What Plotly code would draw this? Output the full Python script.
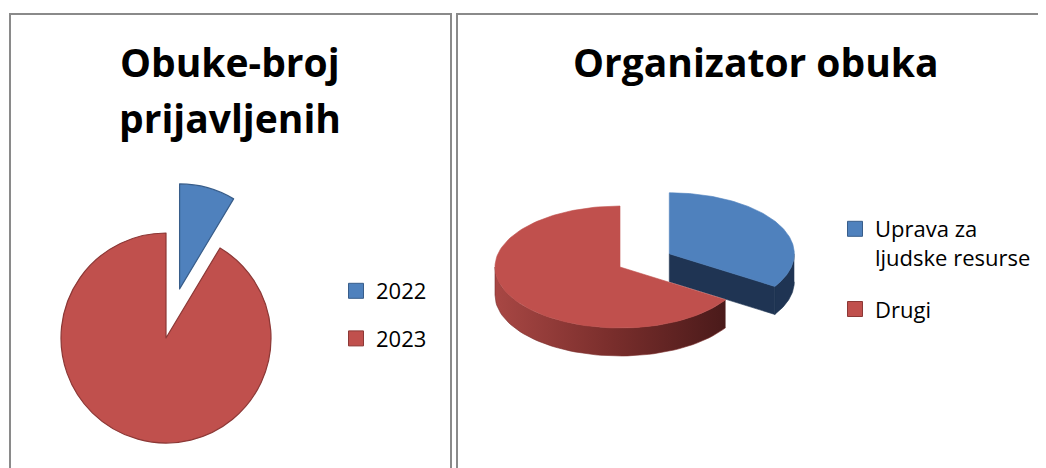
import math
import plotly.graph_objects as go

# ---------------- data ----------------
years = ["2022", "2023"]
year_values = [8.6, 91.4]

org_labels = ["Uprava za<br>ljudske resurse", "Drugi"]
org_values = [34, 66]

# ---------------- style ----------------
OFF = 8                      # page body margin
W, H = 1046 - OFF, 468 - OFF
FONT = "Open Sans"
BLUE, BLUE_LINE, BLUE_DARK = "#4F81BD", "#385D8A", "#1F3453"
RED, RED_LINE = "#C0504D", "#8C3836"
CLEAR = "rgba(0,0,0,0)"
year_colors = [BLUE, RED]
year_lines = [BLUE_LINE, RED_LINE]
org_colors = [BLUE, RED]
org_side = [BLUE_DARK, None]          # None -> gradient
org_lines = [BLUE_LINE, RED_LINE]


def px(x):
    return (x - OFF) / W


def py(y):
    return 1 - (y - OFF) / H


fig = go.Figure()

# ---------------- left pie (2D, exploded first slice) ----------------
LP_CX, LP_CY, LP_R, LP_PULL = 166, 338, 105, 0.485
total = sum(year_values)


def domain(cx, cy, r):
    return dict(x=[px(cx - r), px(cx + r)], y=[py(cy + r), py(cy - r)])


for i, v in enumerate(year_values):
    start = 360 * sum(year_values[:i]) / total
    mid = math.radians(start + 180 * v / total)
    pull = LP_PULL if i == 0 else 0
    cx = LP_CX + pull * LP_R * math.sin(mid)
    cy = LP_CY - pull * LP_R * math.cos(mid)
    colors = [year_colors[j] if j == i else CLEAR for j in range(len(years))]
    lines = [year_lines[j] if j == i else CLEAR for j in range(len(years))]
    fig.add_trace(go.Pie(
        labels=years, values=year_values, sort=False, direction="clockwise",
        rotation=0, textinfo="none", hoverinfo="label+value",
        marker=dict(colors=colors, line=dict(color=lines, width=1.2)),
        domain=domain(cx, cy, LP_R), showlegend=False))

# ---------------- right pie (3D look, exploded first slice) ----------------
RP_CX, RP_CY, RP_A, RP_B, RP_D, RP_PULL = 620, 267, 125, 61, 28, 0.45
org_total = sum(org_values)


def ell(cx, cy, ang, dz=0):
    t = math.radians(ang)
    return cx + RP_A * math.sin(t), cy - RP_B * math.cos(t) + dz


def arc(cx, cy, a0, a1, dz=0, n=60):
    pts = [ell(cx, cy, a0 + (a1 - a0) * k / n, dz) for k in range(n + 1)]
    return [p[0] for p in pts], [p[1] for p in pts]


slices = []
for i, v in enumerate(org_values):
    a0 = 360 * sum(org_values[:i]) / org_total
    a1 = a0 + 360 * v / org_total
    am = math.radians((a0 + a1) / 2)
    pull = RP_PULL if i == 0 else 0
    cx = RP_CX + pull * RP_A * math.sin(am)
    cy = RP_CY - pull * RP_B * math.cos(am)
    slices.append((cy - RP_B * math.cos(am), i, a0, a1, cx, cy))

slices.sort()
for _, i, a0, a1, cx, cy in slices:
    polys = []
    # outer wall (front half only)
    s0, s1 = max(a0, 90), min(a1, 270)
    if s1 > s0:
        tx, ty = arc(cx, cy, s0, s1)
        bx, by = arc(cx, cy, s1, s0, RP_D)
        polys.append((tx + bx, ty + by, "wall"))
    # end cut face
    if math.sin(math.radians(a1)) > 1e-6:
        ex, ey = ell(cx, cy, a1)
        polys.append(([cx, ex, ex, cx, cx], [cy, ey, ey + RP_D, cy + RP_D, cy], "cut"))
    # start cut face
    if math.sin(math.radians(a0)) < -1e-6:
        sx, sy = ell(cx, cy, a0)
        polys.append(([cx, sx, sx, cx, cx], [cy, sy, sy + RP_D, cy + RP_D, cy], "cut"))
    # top face
    tx, ty = arc(cx, cy, a0, a1, n=120)
    polys.append(([cx] + tx + [cx], [cy] + ty + [cy], "top"))
    for xs, ys, kind in polys:
        kw = {}
        if kind == "top":
            col = org_colors[i]
            kw["fillcolor"] = col
        elif org_side[i] is not None:
            col = org_side[i]
            kw["fillcolor"] = col
        else:
            col = "#7A2E2C"
            kw["fillgradient"] = dict(
                type="horizontal",
                colorscale=[[0, "#A84744"], [0.5, "#7A2E2C"], [1, "#4A1A1A"]])
        fig.add_trace(go.Scatter(
            x=xs, y=ys, mode="lines", fill="toself",
            line=dict(width=0.6, color=col), hoverinfo="skip",
            showlegend=False, **kw))

# ---------------- legends ----------------
for i, name in enumerate(years):
    fig.add_trace(go.Scatter(
        x=[None], y=[None], mode="markers", name=name, legend="legend",
        legendgroup="y%d" % i,
        marker=dict(symbol="square", size=15, color=year_colors[i],
                    line=dict(color=year_lines[i], width=1))))
for i, name in enumerate(org_labels):
    fig.add_trace(go.Scatter(
        x=[None], y=[None], mode="markers", name=name, legend="legend2",
        legendgroup="o%d" % i,
        marker=dict(symbol="square", size=15, color=org_colors[i],
                    line=dict(color=org_lines[i], width=1))))

# ---------------- frames & titles ----------------
FRAME = "#8A8A8A"
fig.add_shape(type="rect", xref="x", yref="y", x0=10, x1=451, y0=14, y1=500,
              line=dict(color=FRAME, width=2), layer="below")
fig.add_shape(type="rect", xref="x", yref="y", x0=457, x1=1100, y0=14, y1=500,
              line=dict(color=FRAME, width=2), layer="below")

title_font = dict(family=FONT, size=39, color="black")
for txt, x, y in [("<b>Obuke-broj</b>", 230, 61), ("<b>prijavljenih</b>", 230, 117),
                  ("<b>Organizator obuka</b>", 756, 61)]:
    fig.add_annotation(text=txt, x=x, y=y, xref="x", yref="y", showarrow=False,
                       xanchor="center", yanchor="middle", font=title_font)

fig.update_layout(
    width=W, height=H, margin=dict(l=0, r=0, t=0, b=0, pad=0),
    paper_bgcolor="white", plot_bgcolor="white",
    xaxis=dict(range=[OFF, OFF + W], visible=False, domain=[0, 1], fixedrange=True),
    yaxis=dict(range=[OFF + H, OFF], visible=False, domain=[0, 1], fixedrange=True),
    legend=dict(x=px(336), y=py(270), xanchor="left", yanchor="top",
                font=dict(family=FONT, size=22, color="black"),
                tracegroupgap=16, bgcolor=CLEAR, itemclick=False,
                itemdoubleclick=False),
    legend2=dict(x=px(835), y=py(208), xanchor="left", yanchor="top",
                 font=dict(family=FONT, size=22, color="black"), valign="top",
                 tracegroupgap=20, bgcolor=CLEAR, itemclick=False,
                 itemdoubleclick=False),
)

fig.write_html("out.html")
